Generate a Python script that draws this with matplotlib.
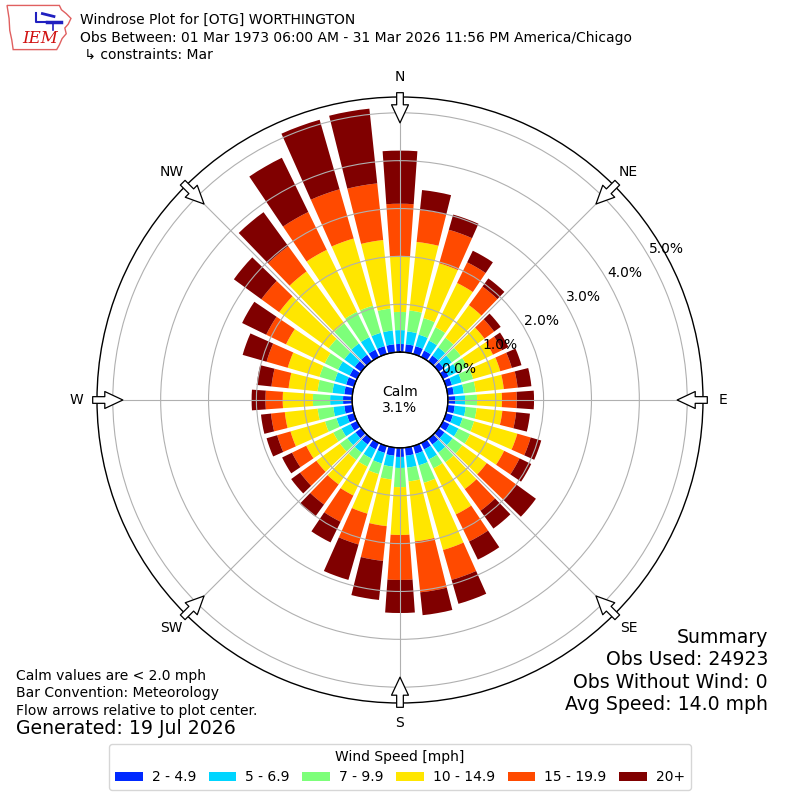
import numpy as np
import matplotlib
matplotlib.use("Agg")
import matplotlib.pyplot as plt
from matplotlib.patches import Patch, Polygon

# ---------------- data (percent of observations) ----------------
directions = list(range(0, 360, 10))
speed_labels = ["2 - 4.9", "5 - 6.9", "7 - 9.9", "10 - 14.9", "15 - 19.9", "20+"]
colors = ["#0029ff", "#00d5ff", "#7dff7a", "#ffe600", "#ff4a00", "#800000"]

spd_2_5 = [0.17, 0.17, 0.17, 0.15, 0.15, 0.13, 0.13, 0.13, 0.13, 0.15, 0.15, 0.15,
           0.15, 0.15, 0.15, 0.15, 0.17, 0.17, 0.19, 0.17, 0.15, 0.15, 0.15, 0.15,
           0.15, 0.15, 0.17, 0.19, 0.17, 0.17, 0.17, 0.17, 0.17, 0.17, 0.17, 0.17]
spd_5_7 = [0.29, 0.27, 0.25, 0.23, 0.21, 0.21, 0.21, 0.21, 0.21, 0.21, 0.23, 0.21,
           0.21, 0.21, 0.21, 0.23, 0.25, 0.25, 0.23, 0.23, 0.23, 0.21, 0.21, 0.21,
           0.21, 0.23, 0.23, 0.27, 0.25, 0.25, 0.27, 0.27, 0.29, 0.29, 0.29, 0.29]
spd_7_10 = [0.38, 0.44, 0.36, 0.31, 0.25, 0.23, 0.23, 0.25, 0.25, 0.25, 0.23, 0.25,
            0.27, 0.25, 0.25, 0.21, 0.38, 0.29, 0.40, 0.27, 0.23, 0.19, 0.19, 0.19,
            0.19, 0.25, 0.33, 0.36, 0.31, 0.33, 0.31, 0.40, 0.52, 0.59, 0.59, 0.46]
spd_10_15 = [1.17, 1.44, 1.19, 1.03, 0.84, 0.61, 0.59, 0.59, 0.59, 0.52, 0.54, 0.94,
             0.79, 0.63, 0.69, 1.07, 1.46, 1.26, 1.00, 0.98, 0.86, 0.67, 0.63, 0.61,
             0.63, 0.75, 0.69, 0.63, 0.61, 0.69, 0.90, 1.28, 1.34, 1.44, 1.46, 1.44]
spd_15_20 = [1.09, 0.67, 0.73, 0.48, 0.48, 0.25, 0.21, 0.25, 0.29, 0.31, 0.29, 0.29,
             0.36, 0.77, 0.56, 0.63, 0.65, 1.07, 0.94, 0.73, 0.67, 0.61, 0.52, 0.42,
             0.33, 0.29, 0.29, 0.36, 0.36, 0.46, 0.46, 0.46, 0.65, 0.88, 1.07, 1.19]
spd_20p = [1.11, 0.42, 0.33, 0.27, 0.21, 0.17, 0.15, 0.21, 0.29, 0.36, 0.29, 0.23,
           0.27, 0.50, 0.46, 0.42, 0.52, 0.48, 0.69, 0.82, 0.77, 0.48, 0.31, 0.23,
           0.23, 0.23, 0.21, 0.29, 0.31, 0.52, 0.56, 0.71, 0.88, 1.26, 1.51, 1.57]
series = [spd_2_5, spd_5_7, spd_7_10, spd_10_15, spd_15_20, spd_20p]

calm_pct = 3.1
r_ticks = [0, 1, 2, 3, 4, 5]
compass = ["N", "NE", "E", "SE", "S", "SW", "W", "NW"]
compass_deg = list(range(0, 360, 45))

# ---------------- figure ----------------
plt.rcParams["font.family"] = ["DejaVu Sans"]
fig = plt.figure(figsize=(8, 8), dpi=100)
ax = fig.add_axes([0.12125, 0.12125, 0.7575, 0.7575], projection="polar")
ax.set_theta_zero_location("N")
ax.set_theta_direction(-1)

theta = np.radians(directions)
width = np.radians(8)
bottom = np.zeros(len(directions))
for vals, col in zip(series, colors):
    vals = np.asarray(vals)
    ax.bar(theta, vals, width=width, bottom=bottom, color=col,
           edgecolor="none", linewidth=0, zorder=1)
    bottom = bottom + vals

ax.set_ylim(0, 5.33)
ax.set_rorigin(-1.0)
ax.set_yticks(r_ticks)
ax.set_yticklabels([f"{v:.1f}%" for v in r_ticks], fontsize=10)
ax.set_rlabel_position(60)
ax.set_xticks(np.radians(compass_deg))
ax.set_xticklabels(compass, fontsize=10)
ax.tick_params(axis="x", pad=4)
ax.grid(True, color="#b0b0b0", linewidth=0.8)
ax.spines["polar"].set_linewidth(1.0)

# calm circle
tt = np.linspace(0, 2 * np.pi, 300)
ax.plot(tt, np.zeros_like(tt), color="black", linewidth=1.0, zorder=3, clip_on=False)
ax.text(0.5, 0.5, f"Calm\n{calm_pct:.1f}%", transform=ax.transAxes,
        ha="center", va="center", fontsize=10)

# flow arrows
for d in compass_deg:
    th = np.radians(d)
    ax.annotate("", xy=(th, 4.79), xytext=(th, 5.42), xycoords="data",
                textcoords="data", annotation_clip=False,
                arrowprops=dict(arrowstyle="simple,head_length=1.3,head_width=1.22,tail_width=0.48",
                                fc="white", ec="black", lw=0.9, mutation_scale=10,
                                shrinkA=0, shrinkB=0))

# ---------------- header ----------------
fig.text(80 / 800, 1 - 20 / 800, "Windrose Plot for [OTG] WORTHINGTON", fontsize=10, va="center")
fig.text(80 / 800, 1 - 38 / 800,
         "Obs Between: 01 Mar 1973 06:00 AM - 31 Mar 2026 11:56 PM America/Chicago",
         fontsize=10, va="center")
fig.text(80 / 800, 1 - 55 / 800, " \u21b3 constraints: Mar", fontsize=10, va="center")

# logo
lax = fig.add_axes([5 / 800, 1 - 52 / 800, 68 / 800, 48 / 800])
lax.set_xlim(0, 1)
lax.set_ylim(0, 1)
lax.axis("off")
iowa = [(0.03, 0.97), (0.80, 0.97), (0.83, 0.88), (0.90, 0.80), (0.97, 0.70),
        (0.93, 0.58), (0.88, 0.50), (0.90, 0.38), (0.84, 0.28), (0.80, 0.15),
        (0.76, 0.05), (0.12, 0.05), (0.10, 0.25), (0.07, 0.45), (0.06, 0.70)]
lax.add_patch(Polygon(iowa, closed=True, fill=False, ec="#e06060", lw=1.0))
lax.text(0.25, 0.28, "IEM", color="#d01010", fontsize=12, family="DejaVu Serif",
         style="italic", ha="left", va="center")
lax.plot([0.45, 0.45, 0.62], [0.82, 0.62, 0.62], color="#2020c0", lw=1.5)
lax.plot([0.62, 0.82], [0.62, 0.62], color="#2020c0", lw=2.5)
lax.plot([0.70, 0.70], [0.62, 0.45], color="#2020c0", lw=1.2)
lax.plot([0.55, 0.72], [0.80, 0.74], color="#2020c0", lw=2.0)

# ---------------- footer texts ----------------
fig.text(16 / 800, 1 - 680 / 800, "Calm values are < 2.0 mph", fontsize=10, va="baseline")
fig.text(16 / 800, 1 - 697 / 800, "Bar Convention: Meteorology", fontsize=10, va="baseline")
fig.text(16 / 800, 1 - 715 / 800, "Flow arrows relative to plot center.", fontsize=10, va="baseline")
fig.text(16 / 800, 1 - 734 / 800, "Generated: 19 Jul 2026", fontsize=13.6, va="baseline")

summary = ["Summary", "Obs Used: 24923", "Obs Without Wind: 0", "Avg Speed: 14.0 mph"]
for line, yb in zip(summary, [643, 665, 688, 710]):
    fig.text(768 / 800, 1 - yb / 800, line, fontsize=13.6, ha="right", va="baseline")

# ---------------- legend ----------------
handles = [Patch(facecolor=c, edgecolor="none") for c in colors]
fig.legend(handles, speed_labels, loc="lower center", bbox_to_anchor=(0.5, 10 / 800),
           ncol=6, title="Wind Speed [mph]", fontsize=10, title_fontsize=10,
           handlelength=2.0, handletextpad=0.65, columnspacing=0.9,
           frameon=True, borderaxespad=0)

fig.savefig("out.png", dpi=100)
